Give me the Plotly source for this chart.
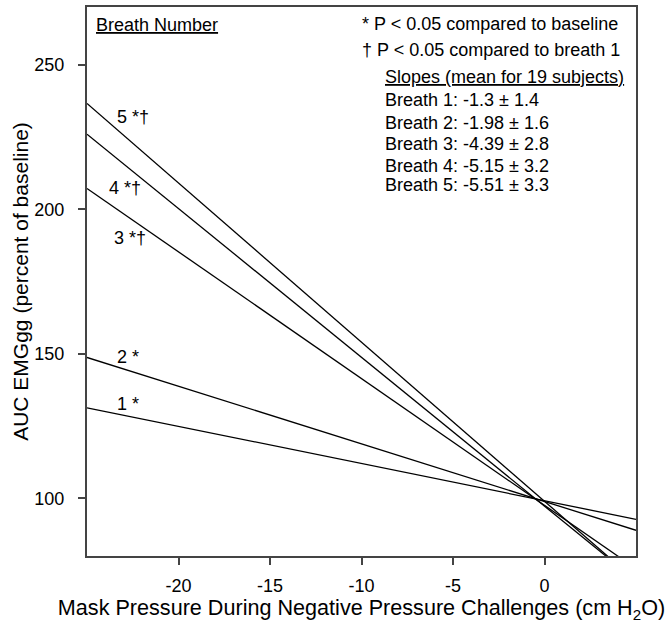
import plotly.graph_objects as go

# ---- data ----
x_ends = [-25, 5]
breath1 = [131.3, 92.7]
breath2 = [148.7, 88.9]
breath3 = [207.2, 75.6]
breath4 = [226.0, 71.5]
breath5 = [236.6, 71.4]
series = [breath1, breath2, breath3, breath4, breath5]

line_labels = ["1 *", "2 *", "3 *\u2020", "4 *\u2020", "5 *\u2020"]
label_x = [-23.45, -23.45, -23.63, -23.9, -23.45]
label_y = [132.6, 148.95, 190.15, 207.35, 231.9]

slope_means = ["-1.3", "-1.98", "-4.39", "-5.15", "-5.51"]
slope_sds = ["1.4", "1.6", "2.8", "3.2", "3.3"]
n_subjects = 19

x_ticks = [-20, -15, -10, -5, 0]
x_tick_text = ["-20", "-15", "-10", "-5", "0"]
y_ticks = [100, 150, 200, 250]
y_tick_text = ["100", "150", "200", "250"]

FONT = "Liberation Sans, Arial, Helvetica, sans-serif"
AX = "#444444"

fig = go.Figure()
for ys in series:
    fig.add_trace(go.Scatter(x=x_ends, y=ys, mode="lines",
                             line=dict(color="black", width=1.3),
                             showlegend=False, hoverinfo="skip"))

ann = []
for t, lx, ly in zip(line_labels, label_x, label_y):
    ann.append(dict(x=lx, y=ly, xref="x", yref="y", text=t, showarrow=False,
                    xanchor="left", yanchor="middle",
                    font=dict(size=18, color="black", family=FONT)))

ann.append(dict(x=0.0133, y=0.967, xref="paper", yref="paper",
                text="<u>Breath Number</u>", showarrow=False,
                xanchor="left", yanchor="middle",
                font=dict(size=18, color="black", family=FONT)))

right_lines = [
    ("* P &lt; 0.05 compared to baseline", 0.498, 0.969),
    ("\u2020 P &lt; 0.05 compared to breath 1", 0.498, 0.9225),
    ("<u>Slopes (mean for %d subjects)</u>" % n_subjects, 0.539, 0.8725),
]
ys_slopes = [0.8306, 0.789, 0.7505, 0.7105, 0.6758]
for i, (m, s) in enumerate(zip(slope_means, slope_sds)):
    right_lines.append(("Breath %d: %s \u00b1 %s" % (i + 1, m, s), 0.539, ys_slopes[i]))
for t, px, py in right_lines:
    ann.append(dict(x=px, y=py, xref="paper", yref="paper", text=t,
                    showarrow=False, xanchor="left", yanchor="middle",
                    font=dict(size=18, color="black", family=FONT)))

fig.update_layout(
    width=667, height=623,
    margin=dict(l=87, r=31, t=7, b=67, autoexpand=False),
    paper_bgcolor="white", plot_bgcolor="white",
    font=dict(family=FONT, color="black", size=18),
    annotations=ann,
    xaxis=dict(range=[-25, 5], tickvals=x_ticks, ticktext=x_tick_text,
               ticks="outside", ticklen=7,
               tickwidth=1.5, tickcolor=AX, showline=True, linecolor=AX,
               linewidth=2, mirror=True, showgrid=False, zeroline=False,
               tickfont=dict(size=18, family=FONT, color="black"),
               ticklabelstandoff=5,
               title=dict(text="Mask Pressure During Negative Pressure Challenges (cm H<sub>2</sub>O)",
                          font=dict(size=21.6, family=FONT, color="black"),
                          standoff=10)),
    yaxis=dict(range=[80, 270], tickvals=y_ticks, ticktext=y_tick_text,
               ticks="outside", ticklen=7,
               tickwidth=1.5, tickcolor=AX, showline=True, linecolor=AX,
               linewidth=2, mirror=True, showgrid=False, zeroline=False,
               tickfont=dict(size=18, family=FONT, color="black"),
               ticklabelstandoff=10,
               title=dict(text="AUC EMGgg (percent of baseline)",
                          font=dict(size=21, family=FONT, color="black"),
                          standoff=0)),
)

fig.write_html("out.html", config={"displayModeBar": False},
               post_script="document.body.style.margin='0';document.body.style.padding='0';")
